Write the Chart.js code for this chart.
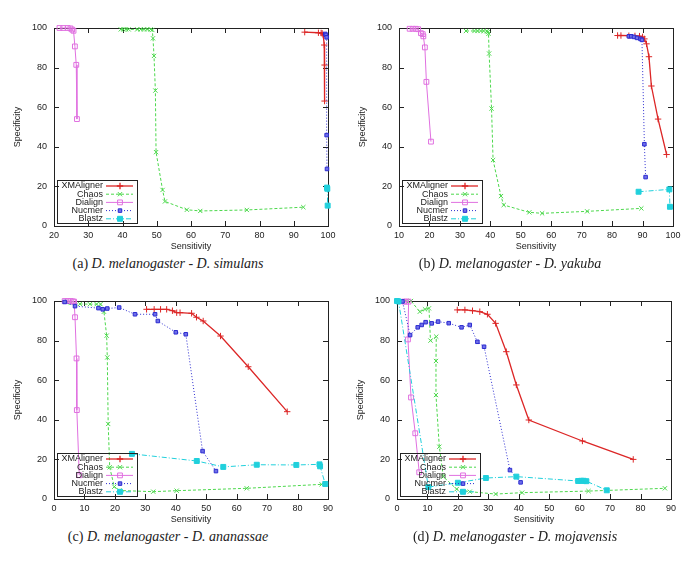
<!DOCTYPE html>
<html>
<head>
<meta charset="utf-8">
<script src="https://cdn.jsdelivr.net/npm/chart.js@4.4.0/dist/chart.umd.min.js"></script>
<style>
body { margin: 0; background: #fff; width: 685px; height: 568px; position: relative; overflow: hidden; }
.panel { position: absolute; }
.cap { position: absolute; font-family: "Liberation Serif", serif; font-size: 14px; color: #222; white-space: nowrap; transform: translateX(-50%); }
.cap i { font-style: italic; }
</style>
</head>
<body>
<div class="panel" style="left:0;top:0"><canvas id="simChart" width="345" height="255"></canvas></div>
<div class="panel" style="left:345px;top:0"><canvas id="yakChart" width="345" height="255"></canvas></div>
<div class="panel" style="left:0;top:273px"><canvas id="anaChart" width="345" height="255"></canvas></div>
<div class="panel" style="left:343px;top:273px"><canvas id="mojChart" width="345" height="255"></canvas></div>
<div class="cap" style="left:168px;top:256px">(a) <i>D. melanogaster</i> - <i>D. simulans</i></div>
<div class="cap" style="left:510px;top:256px">(b) <i>D. melanogaster</i> - <i>D. yakuba</i></div>
<div class="cap" style="left:168px;top:529px">(c) <i>D. melanogaster</i> - <i>D. ananassae</i></div>
<div class="cap" style="left:515px;top:529px">(d) <i>D. melanogaster</i> - <i>D. mojavensis</i></div>
<script>
// series names, in gnuplot plotting order
const seriesNames = ['XMAligner', 'Chaos', 'Dialign', 'Nucmer', 'Blastz'];
const yTicks = [0, 20, 40, 60, 80, 100];

// (a) D. simulans  [sensitivity, specificity]
const simXMAligner = [[93.2,97.9],[97.2,97.6],[98.0,97.5],[98.3,97.3],[98.6,96.5],[98.9,91.4],[99.0,81.3],[99.0,63.1]];
const simChaos = [[39.5,99.3],[40.3,99.3],[41.0,99.3],[41.8,99.3],[44.3,99.3],[45.3,99.3],[46.3,99.3],[47.2,99.3],[48.2,99.3],[48.7,99.0],[48.9,94.8],[49.2,85.9],[49.6,68.4],[49.8,37.3],[51.7,18.2],[52.4,12.4],[58.8,8.2],[62.7,7.6],[76.3,8.1],[92.8,9.5]];
const simDialign = [[21.6,100],[22.7,100],[24.0,100],[24.8,99.8],[25.3,99.2],[25.7,98.6],[26.1,90.7],[26.5,81.4],[26.7,54.0]];
const simNucmer = [[99.2,97.0],[99.4,96.5],[99.6,95.3],[99.6,45.9],[99.7,28.8]];
const simBlastz = [[99.7,19.4],[99.8,18.8],[99.9,10.3]];
const simXTicks = [20, 30, 40, 50, 60, 70, 80, 90, 100];

// (b) D. yakuba
const yakXMAligner = [[81.8,96.2],[82.9,96.2],[85.5,96.1],[87.5,96.0],[89.0,95.9],[90.0,95.5],[90.6,94.5],[91.3,92.0],[92.1,85.5],[92.9,70.7],[95.1,54.0],[97.9,36.1]];
const yakChaos = [[32.0,98.5],[34.8,98.5],[35.8,98.5],[36.8,98.5],[37.8,98.5],[38.8,98.4],[39.2,98.0],[39.4,97.1],[39.6,87.1],[40.4,59.3],[40.9,33.3],[43.5,15.1],[44.4,10.6],[52.8,6.9],[57.0,6.4],[71.8,7.4],[89.6,8.9]];
const yakDialign = [[13.5,99.6],[14.5,99.6],[15.5,99.6],[16.3,99.4],[17.2,97.4],[17.8,96.9],[18.0,95.8],[18.5,90.2],[19.0,72.8],[20.5,42.6]];
const yakNucmer = [[85.5,95.8],[86.3,95.8],[87.2,95.5],[88.2,95.0],[89.3,94.5],[89.8,94.0],[90.6,41.3],[91.0,24.7]];
const yakBlastz = [[88.7,17.3],[98.8,18.5],[99.0,9.7]];
const yakXTicks = [10, 20, 30, 40, 50, 60, 70, 80, 90, 100];

// (c) D. ananassae
const anaXMAligner = [[30.4,95.8],[32.9,95.8],[35.0,95.8],[37.0,95.8],[38.9,95.1],[40.3,94.1],[41.4,94.1],[45.2,93.8],[46.8,91.8],[49.0,89.9],[54.7,82.3],[63.8,66.8],[76.6,44.1]];
const anaChaos = [[3.5,99.5],[5.5,99.0],[8.5,98.5],[11.8,98.4],[14.0,98.4],[15.3,98.4],[16.4,94.6],[17.3,82.5],[17.5,71.5],[17.8,37.9],[18.3,16.0],[19.8,6.2],[21.5,4.3],[32.6,3.7],[40.3,4.2],[63.3,5.4],[87.9,7.4]];
const anaDialign = [[3.5,100],[4.5,100],[5.5,100],[6.2,99.8],[6.6,99.7],[6.9,91.8],[7.4,71.0],[7.5,44.9],[8.3,12.0]];
const anaNucmer = [[3.5,99.5],[6.9,97.4],[14.6,96.4],[16.0,95.8],[17.5,96.2],[21.4,96.7],[26.6,93.3],[33.2,93.3],[34.1,89.9],[40.0,84.2],[43.3,83.2],[48.8,24.2],[53.2,14.1]];
const anaBlastz = [[25.6,22.8],[46.9,19.2],[55.6,16.2],[66.6,17.3],[79.6,17.2],[87.2,17.5],[87.4,16.5],[89.1,7.6]];
const anaXTicks = [0, 10, 20, 30, 40, 50, 60, 70, 80, 90];

// (d) D. mojavensis
const mojXMAligner = [[19.8,95.5],[22.3,95.5],[24.8,95.1],[27.2,94.6],[29.7,93.3],[32.4,88.7],[35.9,74.4],[39.2,57.6],[43.3,39.9],[60.9,29.3],[77.6,20.0]];
const mojChaos = [[3.0,100],[4.6,100],[7.5,94.6],[9.2,95.8],[10.5,96.3],[11.0,80.0],[12.9,82.0],[12.8,69.7],[12.8,52.5],[13.9,26.4],[15.2,11.3],[19.6,5.0],[23.9,3.7],[32.4,2.5],[41.1,3.2],[62.9,4.0],[88.0,5.4]];
const mojDialign = [[2.3,99.7],[3.0,99.7],[3.8,99.7],[3.6,80.6],[4.6,51.3],[6.0,33.2],[7.3,13.5]];
const mojNucmer = [[0.2,100],[1.8,99.8],[4.3,82.8],[6.8,86.7],[8.1,87.9],[9.4,89.3],[11.4,88.7],[13.5,89.6],[17.0,88.8],[21.2,86.7],[23.9,87.9],[26.4,79.4],[28.6,76.9],[37.1,14.6],[40.6,8.4]];
const mojBlastz = [[0,100],[0.5,99.8],[10.3,6.0],[20.0,8.2],[29.2,10.6],[39.2,11.3],[59.5,9.1],[60.5,9.2],[61.3,9.2],[62.2,9.0],[68.9,4.4]];
const mojXTicks = [0, 10, 20, 30, 40, 50, 60, 70, 80, 90];

// line / point styles, one per series
const styles = [
    { color: '#dc2626', fill: '#dc2626', dash: [], pointStyle: 'cross', radius: 3.2, width: 1.3 },
    { color: '#4cd84c', fill: '#4cd84c', dash: [3, 2], pointStyle: 'crossRot', radius: 3, width: 1 },
    { color: '#e070e0', fill: 'rgba(0,0,0,0)', dash: [], pointStyle: 'rect', radius: 3.4, width: 1 },
    { color: '#2c2cd0', fill: '#7070e8', dash: [1, 2], pointStyle: 'rect', radius: 2.5, width: 1 },
    { color: '#20d0dc', fill: '#20d0dc', dash: [5, 2, 1, 2], pointStyle: 'rect', radius: 3.5, width: 1 }
];

const toXY = pts => pts.map(p => ({ x: p[0], y: p[1] }));

// gnuplot style frame with inward ticks on all four sides
const framePlugin = {
    id: 'gnuFrame',
    beforeDatasetsDraw(chart) {
        const ctx = chart.ctx, a = chart.chartArea;
        const xs = chart.scales.x, ys = chart.scales.y;
        ctx.save();
        ctx.strokeStyle = '#222';
        ctx.lineWidth = 1;
        ctx.strokeRect(Math.round(a.left) + 0.5, Math.round(a.top) + 0.5, Math.round(a.right - a.left), Math.round(a.bottom - a.top));
        ctx.beginPath();
        xs.ticks.forEach(t => {
            const px = Math.round(xs.getPixelForValue(t.value)) + 0.5;
            ctx.moveTo(px, a.bottom); ctx.lineTo(px, a.bottom - 5);
            ctx.moveTo(px, a.top); ctx.lineTo(px, a.top + 5);
        });
        ys.ticks.forEach(t => {
            const py = Math.round(ys.getPixelForValue(t.value)) + 0.5;
            ctx.moveTo(a.left, py); ctx.lineTo(a.left + 5, py);
            ctx.moveTo(a.right, py); ctx.lineTo(a.right - 5, py);
        });
        ctx.stroke();
        ctx.restore();
    }
};

// key box in the lower left corner of the plot
const keyPlugin = {
    id: 'gnuKey',
    afterDatasetsDraw(chart) {
        const ctx = chart.ctx, a = chart.chartArea;
        const left = a.left + 3, top = a.bottom - 46, w = 80, h = 43;
        ctx.save();
        ctx.strokeStyle = '#222';
        ctx.lineWidth = 1;
        ctx.strokeRect(Math.round(left) + 0.5, Math.round(top) + 0.5, w, h);
        ctx.font = '9px "Liberation Sans", Arial, sans-serif';
        ctx.textAlign = 'right';
        ctx.textBaseline = 'middle';
        seriesNames.forEach((name, i) => {
            const s = styles[i];
            const y = top + 6 + i * 8.2;
            ctx.fillStyle = '#222';
            ctx.fillText(name, left + 46, y);
            ctx.strokeStyle = s.color;
            ctx.lineWidth = s.width;
            ctx.setLineDash(s.dash);
            ctx.beginPath();
            ctx.moveTo(left + 49, y);
            ctx.lineTo(left + 76, y);
            ctx.stroke();
            ctx.setLineDash([]);
            ctx.fillStyle = s.fill;
            Chart.helpers.drawPoint(ctx, { pointStyle: s.pointStyle, radius: s.radius, rotation: 0, borderWidth: 1 }, left + 63, y);
        });
        ctx.restore();
    }
};

function makeChart(canvasId, series, xTicks) {
    const ctx = document.getElementById(canvasId).getContext('2d');
    const datasets = series.map((pts, i) => ({
        label: seriesNames[i],
        data: toXY(pts),
        showLine: true,
        borderColor: styles[i].color,
        borderWidth: styles[i].width,
        borderDash: styles[i].dash,
        backgroundColor: styles[i].fill,
        pointStyle: styles[i].pointStyle,
        pointRadius: styles[i].radius,
        pointBorderColor: styles[i].color,
        pointBackgroundColor: styles[i].fill,
        pointBorderWidth: 1,
        order: seriesNames.length - i,
        clip: 6
    }));
    const tickFont = { family: '"Liberation Sans", Arial, sans-serif', size: 9 };
    return new Chart(ctx, {
        type: 'scatter',
        data: { datasets: datasets },
        options: {
            responsive: false,
            animation: false,
            layout: { padding: { top: 28, right: 17, left: 0, bottom: 0 } },
            plugins: { legend: { display: false }, tooltip: { enabled: false } },
            scales: {
                x: {
                    type: 'linear',
                    min: xTicks[0],
                    max: xTicks[xTicks.length - 1],
                    afterBuildTicks: s => { s.ticks = xTicks.map(v => ({ value: v })); },
                    afterFit: s => { s.height = 29; },
                    grid: { display: false, drawTicks: false },
                    border: { display: false },
                    ticks: { color: '#222', font: tickFont, padding: 4, maxRotation: 0 },
                    title: { display: true, text: 'Sensitivity', color: '#222', font: tickFont, padding: { top: 0, bottom: 2.6 } }
                },
                y: {
                    type: 'linear',
                    min: 0,
                    max: 100,
                    afterBuildTicks: s => { s.ticks = yTicks.map(v => ({ value: v })); },
                    afterFit: s => { s.width = 54; },
                    grid: { display: false, drawTicks: false },
                    border: { display: false },
                    ticks: { color: '#222', font: tickFont, padding: 7 },
                    title: { display: true, text: 'Specificity', color: '#222', font: tickFont, padding: { top: 12.6, bottom: 0 } }
                }
            }
        },
        plugins: [framePlugin, keyPlugin]
    });
}

makeChart('simChart', [simXMAligner, simChaos, simDialign, simNucmer, simBlastz], simXTicks);
makeChart('yakChart', [yakXMAligner, yakChaos, yakDialign, yakNucmer, yakBlastz], yakXTicks);
makeChart('anaChart', [anaXMAligner, anaChaos, anaDialign, anaNucmer, anaBlastz], anaXTicks);
makeChart('mojChart', [mojXMAligner, mojChaos, mojDialign, mojNucmer, mojBlastz], mojXTicks);
</script>
</body>
</html>
